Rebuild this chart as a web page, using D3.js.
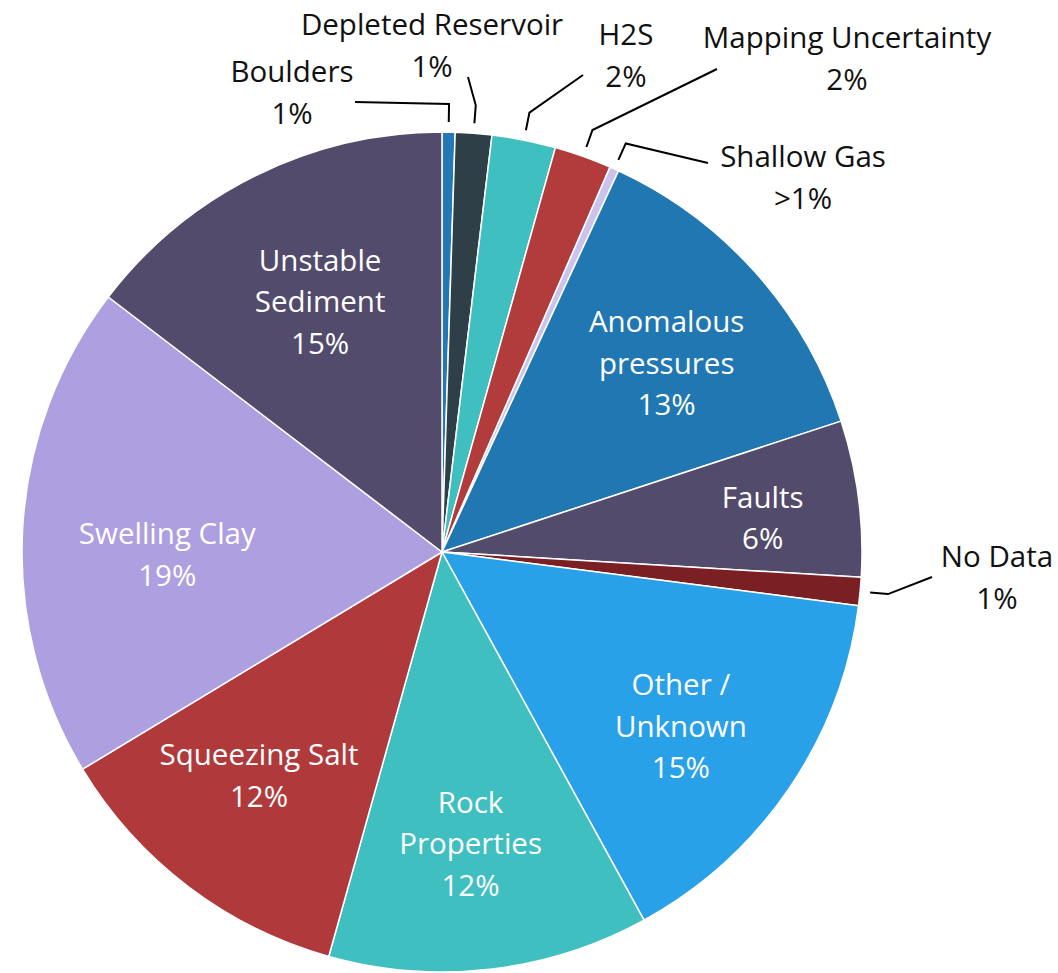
<!DOCTYPE html>
<html>
<head>
<meta charset="utf-8">
<script src="https://cdn.jsdelivr.net/npm/d3@7"></script>
<style>
  html, body { margin: 0; padding: 0; background: #ffffff; }
  svg { display: block; }
</style>
</head>
<body>
<svg id="chart" width="1058" height="973"></svg>
<script>
// Drilling hazard categories, clockwise from 12 o'clock
const categories = [
  "Boulders", "Depleted Reservoir", "H2S", "Mapping Uncertainty", "Shallow Gas",
  "Anomalous pressures", "Faults", "No Data", "Other / Unknown", "Rock Properties",
  "Squeezing Salt", "Swelling Clay", "Unstable Sediment"
];
// Share of incidents, percent
const shares = [0.5, 1.4, 2.45, 2.2, 0.35, 13.05, 6.0, 1.08, 14.97, 12.33, 12.0, 19.03, 14.61];
const colors = [
  "#2378b6", "#2f3f47", "#40bfc0", "#b23b3c", "#cbc3eb",
  "#2077b2", "#534b6b", "#7a1f22", "#29a1e8", "#40bfc0",
  "#b03a3b", "#ae9fe0", "#534b6b"
];
// Which labels sit outside the pie with a leader line
const outsideLabels = ["Boulders", "Depleted Reservoir", "H2S", "Mapping Uncertainty", "Shallow Gas", "No Data"];
// Line breaks used for the wrapped labels
const wrapped = {
  "Anomalous pressures": ["Anomalous", "pressures"],
  "Other / Unknown": ["Other /", "Unknown"],
  "Rock Properties": ["Rock", "Properties"],
  "Unstable Sediment": ["Unstable", "Sediment"]
};

const pctText = v => v < 0.5 ? ">1%" : Math.round(v) + "%";

// Layout
const W = 1058, H = 973;
const cx = 442, cy = 552, R = 420;
const FONT = "'Open Sans', 'Noto Sans', sans-serif";
const FS = 29.5;      // label font size
const LH = 41.5;      // label line spacing

// Radial placement of inside labels as a fraction of R, plus small nudges in px
const insideRadius = { "Unstable Sediment": 0.655, "Swelling Clay": 0.655, "Faults": 0.77 };
const insideNudge = {
  "Unstable Sediment": [0, -3],
  "Anomalous pressures": [5, 7],
  "Faults": [0, 8],
  "Other / Unknown": [-4, 9],
  "Rock Properties": [-5, 0],
  "Squeezing Salt": [-5, -10],
  "Swelling Clay": [0, 18]
};
// Outside label blocks: text centre / first baseline and leader attach point, offsets from the pie centre
const outsideLayout = {
  "Boulders":            { tx: -150, ty: -470, ax: -87, ay: -450 },
  "Depleted Reservoir":  { tx: -10,  ty: -517, ax: 26,  ay: -475 },
  "H2S":                 { tx: 184,  ty: -507, ax: 141, ay: -477 },
  "Mapping Uncertainty": { tx: 405,  ty: -504, ax: 275, ay: -483 },
  "Shallow Gas":         { tx: 361,  ty: -385, ax: 266, ay: -389 },
  "No Data":             { tx: 555,  ty: 15,   ax: 490, ay: 25 }
};

const data = categories.map((name, i) => ({ name, value: shares[i], color: colors[i] }));

const svg = d3.select("#chart");
svg.append("rect").attr("width", W).attr("height", H).attr("fill", "#ffffff");

const g = svg.append("g").attr("transform", `translate(${cx},${cy})`);

const pie = d3.pie().sort(null).value(d => d.value).startAngle(0).endAngle(2 * Math.PI);
const arcs = pie(data);
const arc = d3.arc().innerRadius(0).outerRadius(R);

g.selectAll("path.slice")
  .data(arcs)
  .join("path")
  .attr("class", "slice")
  .attr("d", arc)
  .attr("fill", d => d.data.color)
  .attr("stroke", "#ffffff")
  .attr("stroke-width", 1.5)
  .attr("stroke-linejoin", "round");

const midAngle = d => (d.startAngle + d.endAngle) / 2;
const polar = (a, r) => [r * Math.sin(a), -r * Math.cos(a)];

// Inside labels
const inside = arcs.filter(d => !outsideLabels.includes(d.data.name));
inside.forEach(d => {
  const name = d.data.name;
  const lines = (wrapped[name] || [name]).concat([pctText(d.data.value)]);
  const f = insideRadius[name] || 0.7;
  const [nx, ny] = insideNudge[name] || [0, 0];
  const [px, py] = polar(midAngle(d), R * f);
  const x = px + nx;
  const y0 = py + ny - (lines.length - 1) * LH / 2 + 10;
  const t = g.append("text")
    .attr("text-anchor", "middle")
    .attr("font-family", FONT)
    .attr("font-size", FS)
    .attr("fill", "#ffffff");
  lines.forEach((ln, k) => {
    t.append("tspan").attr("x", x).attr("y", y0 + k * LH).text(ln);
  });
});

// Outside labels with leader lines
const outside = arcs.filter(d => outsideLabels.includes(d.data.name));
outside.forEach(d => {
  const name = d.data.name;
  const L = outsideLayout[name];
  const a = midAngle(d);
  const end = polar(a, R + 10);
  const bend = polar(a, R + 28);
  g.append("path")
    .attr("d", d3.line()([[L.ax, L.ay], bend, end]))
    .attr("fill", "none")
    .attr("stroke", "#000000")
    .attr("stroke-width", 2)
    .attr("stroke-linejoin", "miter");

  const lines = [name, pctText(d.data.value)];
  const t = g.append("text")
    .attr("text-anchor", "middle")
    .attr("font-family", FONT)
    .attr("font-size", FS)
    .attr("fill", "#111111");
  lines.forEach((ln, k) => {
    t.append("tspan").attr("x", L.tx).attr("y", L.ty + k * LH).text(ln);
  });
});
</script>
</body>
</html>
